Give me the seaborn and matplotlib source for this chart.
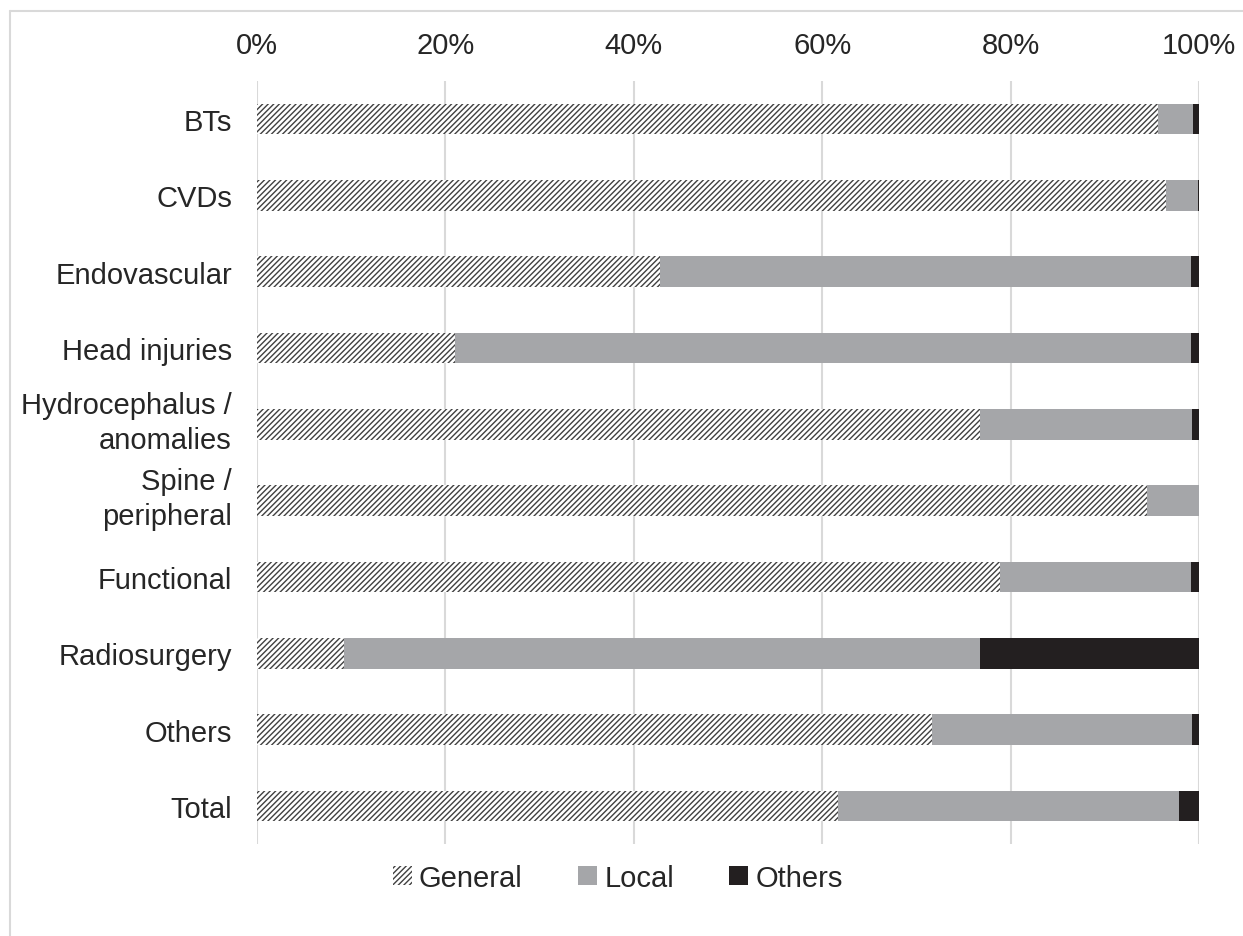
import numpy as np
import pandas as pd
import seaborn as sns
import matplotlib.pyplot as plt
import matplotlib.transforms as mtrans
from matplotlib.patches import Patch
from matplotlib.lines import Line2D

# anesthesia type share per surgery category (%)
categories = ["BTs", "CVDs", "Endovascular", "Head injuries", "Hydrocephalus /\nanomalies",
              "Spine /\nperipheral", "Functional", "Radiosurgery", "Others", "Total"]
general = [95.6, 96.5, 42.8, 21.0, 76.7, 94.5, 78.9, 9.2, 71.7, 61.7]
local = [3.8, 3.4, 56.3, 78.2, 22.6, 5.5, 20.2, 67.6, 27.6, 36.2]
others = [0.6, 0.1, 0.9, 0.8, 0.7, 0.0, 0.9, 23.2, 0.7, 2.1]
xticks = [0, 20, 40, 60, 80, 100]

df = pd.DataFrame({"category": categories, "General": general, "Local": local, "Others": others})
df["cum_local"] = df["General"] + df["Local"]
df["cum_others"] = df["cum_local"] + df["Others"]

sns.set_theme(style="white")
plt.rcParams["font.family"] = ["Liberation Sans", "DejaVu Sans"]
plt.rcParams["hatch.linewidth"] = 1.0

text_col = "#262626"
gray = "#A5A6A9"
black = "#231F20"
hatch_col = "#404040"
fs = 21

fig = plt.figure(figsize=(12.43, 9.37), dpi=100)
ax = fig.add_axes([257 / 1243, 1 - 845 / 937, 942 / 1243, 763 / 937])

# stacked bars: draw cumulative totals back to front
sns.barplot(data=df, y="category", x="cum_others", color=black, width=0.4,
            linewidth=0, saturation=1, ax=ax, orient="h")
sns.barplot(data=df, y="category", x="cum_local", color=gray, width=0.4,
            linewidth=0, saturation=1, ax=ax, orient="h")
n_before = len(ax.patches)
sns.barplot(data=df, y="category", x="General", color="white", width=0.4,
            linewidth=0, saturation=1, ax=ax, orient="h")
for p in ax.patches[n_before:]:
    p.set_facecolor("white")
    p.set_edgecolor(hatch_col)
    p.set_hatch("//////")
    p.set_linewidth(0)

ax.set_xlim(0, 100)
ax.set_ylim(9.5, -0.5)
ax.set_xticks(xticks)
ax.set_xticklabels([f"{t}%" for t in xticks])
ax.xaxis.tick_top()
ax.set_xlabel("")
ax.set_ylabel("")
ax.grid(axis="x", color="#D9D9D9", linewidth=1.5)
ax.set_axisbelow(True)
for s in ax.spines.values():
    s.set_visible(False)
ax.tick_params(axis="x", length=0, pad=16, labelsize=fs, labelcolor=text_col)
ax.tick_params(axis="y", length=0, pad=18, labelsize=fs, labelcolor=text_col)

# two-line labels sit a bit higher in the original
for lab in ax.get_yticklabels():
    if "\n" in lab.get_text():
        lab.set_linespacing(1.3)
        lab.set_transform(lab.get_transform() + mtrans.ScaledTranslation(0, 6 / 72, fig.dpi_scale_trans))

handles = [Patch(facecolor="white", edgecolor=hatch_col, hatch="//////", linewidth=0, label="General"),
           Patch(facecolor=gray, linewidth=0, label="Local"),
           Patch(facecolor=black, linewidth=0, label="Others")]
fig.legend(handles=handles, loc="center", bbox_to_anchor=(0.497, 1 - 879 / 937), ncol=3,
           frameon=False, fontsize=fs, handlelength=0.65, handleheight=0.65,
           handletextpad=0.25, columnspacing=1.9, labelcolor=text_col)

# chart frame (only top and left edges visible)
fig.add_artist(Line2D([10 / 1243, 10 / 1243], [0, 1 - 12 / 937], transform=fig.transFigure,
                      color="#D9D9D9", linewidth=1.5))
fig.add_artist(Line2D([10 / 1243, 1], [1 - 12 / 937, 1 - 12 / 937], transform=fig.transFigure,
                      color="#D9D9D9", linewidth=1.5))

fig.savefig("out.png", dpi=100)
